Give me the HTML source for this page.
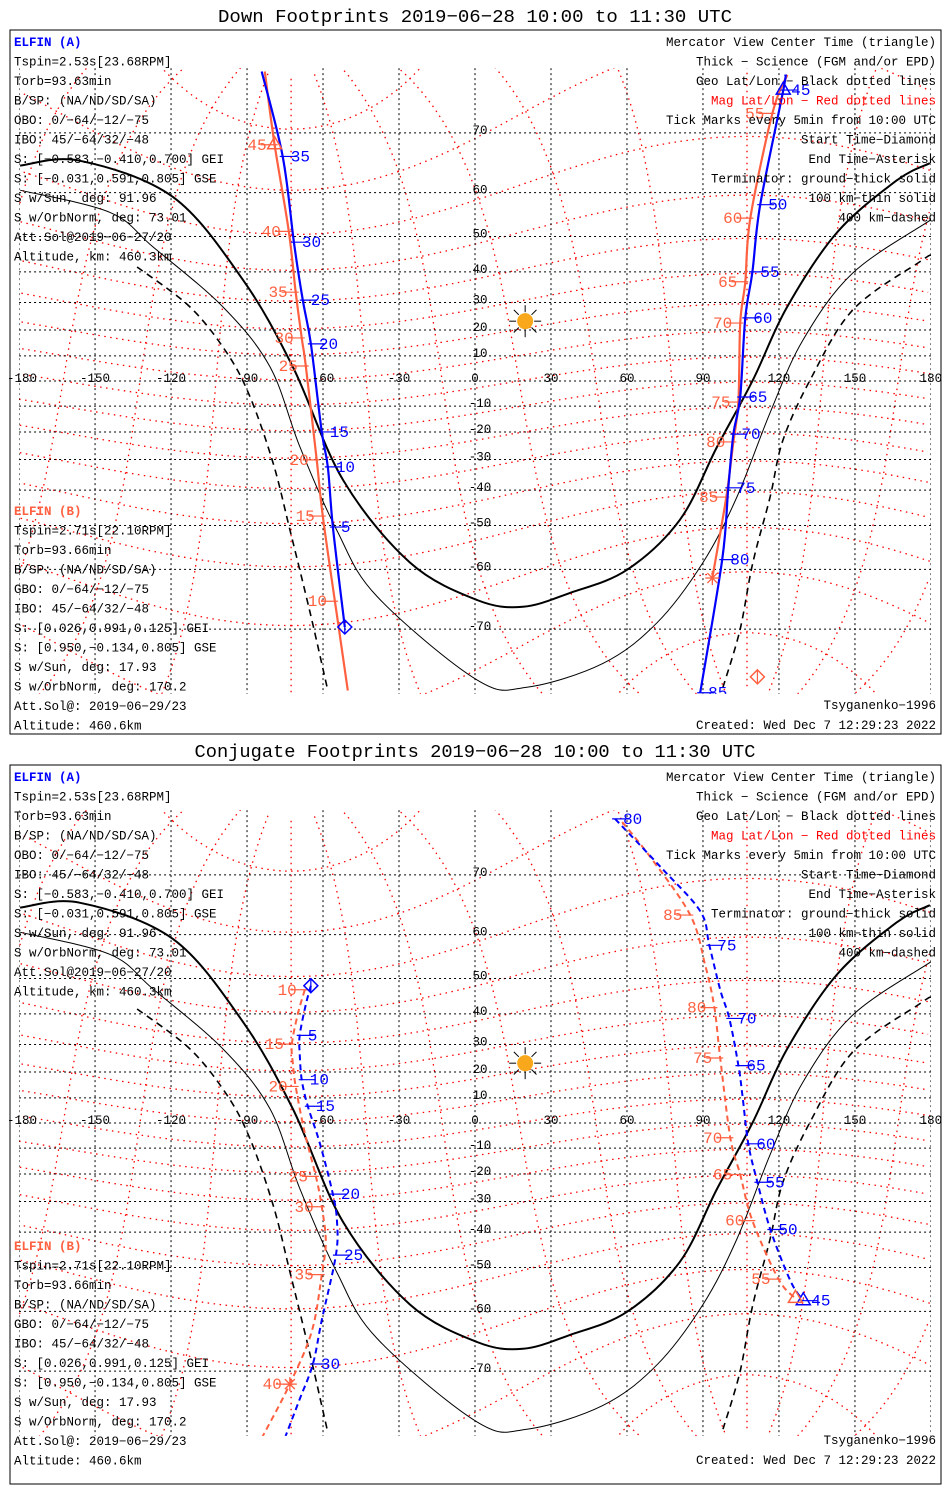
<!DOCTYPE html>
<html><head><meta charset="utf-8"><style>
html,body{margin:0;padding:0;background:#fff;width:950px;height:1500px;overflow:hidden;}
svg{display:block;}
text{font-family:"Liberation Mono",monospace;}
</style></head><body>
<svg id="chart" xmlns="http://www.w3.org/2000/svg" width="950" height="1500" viewBox="0 0 950 1500" overflow="hidden">
<rect x="0" y="0" width="950" height="1500" fill="#fff"/>
</svg>
<script>
const lonTicks = [-180,-150,-120,-90,-60,-30,0,30,60,90,120,150,180];
const latTicks = [-70,-60,-50,-40,-30,-20,-10,0,10,20,30,40,50,60,70];
const lonTickLabels = ['-180','-150','-120','-90','-60','-30','0','30','60','90','120','150','180'];
const latTickLabels = ['-70','-60','-50','-40','-30','-20','-10','0','10','20','30','40','50','60','70'];
const magLatLines = [-80,-70,-60,-50,-40,-30,-20,-10,0,10,20,30,40,50,60,70,80];
const magLonLines = [0,30,60,90,120,150,180,210,240,270,300,330];
const sunLon = 19.8, sunLat = 23.3;

const termThickLon = [-179.6,-155.9,-119.2,-91.6,-71.9,-52.1,-25.7,0.8,18.9,37.5,60.0,80.9,95.5,109.7,123.2,142.9,166.6,179.6];
const termThickLat = [65.0,65.8,59.1,37.5,5.6,-36.8,-58.6,-65.6,-66.7,-64.4,-60.1,-48.5,-25.6,0.4,28.4,51.0,62.4,65.4];
const termThinLon = [-179.6,-144.1,-127.1,-99.5,-80.9,-69.1,-54.5,-38.7,0.8,20.5,50.5,71.9,90.0,103.4,116.5,129.5,149.2,180];
const termThinLat = [60.5,55.8,47.2,28.4,5.6,-25.6,-51.3,-65.0,-75.9,-76.6,-74.2,-69.1,-58.6,-42.1,-12.6,16.2,39.7,54.1];
const termDashLLon = [-133.4,-112.5,-97.9,-88.8,-79.7,-73.0,-65.1,-58.4];
const termDashLLat = [41.5,28.4,11.1,-6.4,-31.2,-51.3,-67.6,-76.6];
const termDashRLon = [180,175.7,149.2,132.3,121.6,116.5,109.7,104.6,97.9];
const termDashRLat = [45.0,43.1,27.4,0.4,-23.0,-42.1,-58.6,-70.1,-76.6];

// Panel 1 (down footprints)
const p1ALeftLon = [-84.2,-75.9,-71.5,-68.0,-64.8,-60.5,-58.1,-56.1,-51.4];
const p1ALeftLat = [76.9,66.5,48.5,30.8,14.7,-20.0,-32.5,-50.4,-69.7];
const p1ALeftTickIdx = [1,2,3,4,5,6,7];
const p1ALeftTickLbl = ['35','30','25','20','15','10','5'];
const p1ARightLon = [122.5,121.7,112.6,109.5,106.7,104.7,102.0,100.0,97.6,88.9];
const p1ARightLat = [76.6,75.1,57.5,40.0,24.5,-6.4,-20.8,-39.3,-58.0,-77.1];
const p1ARightTickIdx = [1,2,3,4,5,6,7,8,9];
const p1ARightTickLbl = ['45','50','55','60','65','70','75','80','85'];
const p1BLeftLon = [-83.0,-79.1,-73.5,-70.8,-68.4,-66.8,-62.5,-60.1,-55.3,-50.2];
const p1BLeftLat = [76.9,68.3,51.3,33.5,17.0,6.0,-30.1,-47.5,-65.8,-76.9];
const p1BLeftTickIdx = [1,2,3,4,5,6,7,8];
const p1BLeftTickLbl = ['45','40','35','30','25','20','15','10'];
const p1BRightLon = [123.3,117.4,108.7,106.7,104.7,104.0,102.0,99.2,93.7];
const p1BRightLat = [76.6,72.5,54.5,36.9,22.6,-8.4,-23.7,-42.1,-61.7];
const p1BRightTickIdx = [1,2,3,4,5,6,7];
const p1BRightTickLbl = ['55','60','65','70','75','80','85'];
const p1BStartLon = 111.5, p1BStartLat = -75.6;

// Panel 2 (conjugate footprints)
const p2ALeftLon = [-64.8,-66.8,-69.2,-69.2,-68.4,-66.0,-61.3,-56.1,-54.5,-54.9,-60.5,-64.0,-69.2,-75.1];
const p2ALeftLat = [48.1,42.8,33.1,26.7,17.1,6.7,-7.9,-27.4,-36.7,-46.7,-61.7,-69.0,-73.5,-77.4];
const p2ALeftTickIdx = [2,4,5,7,9,11];
const p2ALeftTickLbl = ['5','10','15','20','25','30'];
const p2ARightLon = [55.3,73.1,88.9,92.5,96.8,100.4,104.0,105.5,107.9,111.5,116.6,124.5,129.6];
const p2ARightLat = [76.4,71.1,64.4,57.8,47.0,38.6,22.4,11.7,-8.3,-23.1,-39.2,-53.3,-57.8];
const p2ARightTickIdx = [0,3,5,6,8,9,10,12];
const p2ARightTickLbl = ['80','75','70','65','60','55','50','45'];
const p2BLeftLon = [-67.2,-70.0,-72.3,-71.9,-70.8,-67.2,-62.8,-60.5,-58.9,-60.5,-64.4,-73.1,-84.2];
const p2BLeftLat = [47.0,39.8,30.1,23.1,14.5,-4.0,-20.9,-31.8,-42.8,-51.8,-63.7,-71.7,-77.4];
const p2BLeftTickIdx = [0,2,4,6,7,9,11];
const p2BLeftTickLbl = ['10','15','20','25','30','35','40'];
const p2BRightLon = [58.1,69.2,85.0,90.9,94.5,96.8,100.8,104.7,109.5,119.8,126.5];
const p2BRightLat = [76.1,72.3,63.7,53.3,41.9,25.2,-5.9,-20.2,-36.4,-52.9,-57.3];
const p2BRightTickIdx = [2,4,5,6,7,8,9];
const p2BRightTickLbl = ['85','80','75','70','65','60','55'];

const leftTextA = ['Tspin=2.53s[23.68RPM]','Torb=93.63min','B/SP: (NA/ND/SD/SA)','OBO: 0/−64/−12/−75','IBO: 45/−64/32/−48','S: [−0.583,−0.410,0.700] GEI','S: [−0.031,0.591,0.805] GSE','S w/Sun, deg: 91.96','S w/OrbNorm, deg: 73.01','Att.Sol@2019−06−27/20','Altitude, km: 460.3km'];
const leftTextB = ['Tspin=2.71s[22.10RPM]','Torb=93.66min','B/SP: (NA/ND/SD/SA)','GBO: 0/−64/−12/−75','IBO: 45/−64/32/−48','S: [0.026,0.991,0.125] GEI','S: [0.950,−0.134,0.805] GSE','S w/Sun, deg: 17.93','S w/OrbNorm, deg: 170.2','Att.Sol@: 2019−06−29/23','Altitude: 460.6km'];
const rightText = ['Mercator View Center Time (triangle)','Thick − Science (FGM and/or EPD)','Geo Lat/Lon − Black dotted lines','Mag Lat/Lon − Red dotted lines','Tick Marks every 5min from 10:00 UTC','Start Time−Diamond','End Time−Asterisk','Terminator: ground−thick solid','100 km−thin solid','400 km−dashed'];

const NS = 'http://www.w3.org/2000/svg';
const svg = document.getElementById('chart');
const BLUE = '#0000ff', ORANGE = '#ff6040';

function mk(parent, tag, attrs, txt) {
  const el = document.createElementNS(NS, tag);
  for (const k in attrs) el.setAttribute(k, attrs[k]);
  if (txt !== undefined) el.textContent = txt;
  parent.appendChild(el);
  return el;
}

function smoothPath(pts) {
  if (pts.length < 3) return 'M' + pts.map(p => p[0].toFixed(1) + ',' + p[1].toFixed(1)).join(' L');
  let d = 'M' + pts[0][0].toFixed(1) + ',' + pts[0][1].toFixed(1);
  for (let i = 0; i < pts.length - 1; i++) {
    const p0 = pts[Math.max(0, i-1)], p1 = pts[i], p2 = pts[i+1], p3 = pts[Math.min(pts.length-1, i+2)];
    const c1x = p1[0] + (p2[0]-p0[0])/6, c1y = p1[1] + (p2[1]-p0[1])/6;
    const c2x = p2[0] - (p3[0]-p1[0])/6, c2y = p2[1] - (p3[1]-p1[1])/6;
    d += ` C${c1x.toFixed(1)},${c1y.toFixed(1)} ${c2x.toFixed(1)},${c2y.toFixed(1)} ${p2[0].toFixed(1)},${p2[1].toFixed(1)}`;
  }
  return d;
}

function magToGeo(mlat, mlon) {
  const d = Math.PI/180, th = 9.5*d, p = -72.6*d;
  const a = mlat*d, b = mlon*d;
  const x = Math.cos(a)*Math.cos(b), y = Math.cos(a)*Math.sin(b), z = Math.sin(a);
  const x1 = x*Math.cos(th) + z*Math.sin(th), z1 = -x*Math.sin(th) + z*Math.cos(th), y1 = y;
  const x2 = x1*Math.cos(p) - y1*Math.sin(p), y2 = x1*Math.sin(p) + y1*Math.cos(p);
  return [Math.atan2(y2, x2)/d, Math.asin(Math.max(-1, Math.min(1, z1)))/d];
}

function drawPanel(idx, boxTop, boxBot, y0, title, titleLen, conj) {
  const sx = lon => 475 + 2.533*lon;
  const sy = lat => y0 - 143*Math.log(Math.tan(Math.PI/4 + lat*Math.PI/360));
  const g = mk(svg, 'g', {});
  
  

  const t = mk(g, 'text', {x: 475, y: boxTop - 8, 'text-anchor': 'middle', 'font-size': 18.7, textLength: titleLen, lengthAdjust: 'spacingAndGlyphs'}, title);
  
  

  const frame = mk(g, 'rect', {x: 10, y: boxTop, width: 931, height: boxBot - boxTop, fill: 'none', stroke: '#000', 'stroke-width': 1});
  
  

  const topY = sy(77.2), botY = sy(-77.2);
  const cid = 'clip' + idx;
  const defs = mk(g, 'defs', {});
  const cp = mk(defs, 'clipPath', {id: cid});
  mk(cp, 'rect', {x: sx(-180), y: topY, width: sx(180) - sx(-180), height: botY - topY});
  const map = mk(g, 'g', {'clip-path': 'url(#' + cid + ')'});
  
  

  const mg = mk(map, 'g', {fill: 'none', stroke: '#ff0000', 'stroke-width': 1.3, 'stroke-dasharray': '1.5,4.5'});
  
  
  function polyGeo(pts, parent, name) {
    let segs = [[]];
    for (let i = 0; i < pts.length; i++) {
      if (i > 0 && Math.abs(pts[i][0] - pts[i-1][0]) > 180) segs.push([]);
      segs[segs.length-1].push(pts[i]);
    }
    segs.forEach(s => {
      if (s.length < 2) return;
      const pl = mk(parent, 'polyline', {points: s.map(p => sx(p[0]).toFixed(1) + ',' + sy(p[1]).toFixed(1)).join(' ')});
      
      
    });
  }
  magLatLines.forEach(ml => {
    const pts = [];
    for (let m = 0; m <= 360; m += 2) pts.push(magToGeo(ml, m));
    polyGeo(pts, mg, 'mag-lat-line');
  });
  magLonLines.forEach(mo => {
    const pts = [];
    for (let a = -86; a <= 86; a += 2) pts.push(magToGeo(a, mo));
    polyGeo(pts, mg, 'mag-lon-line');
  });

  const gg = mk(map, 'g', {stroke: '#000', 'stroke-width': 1, 'stroke-dasharray': '2,3'});
  
  
  latTicks.forEach(la => {
    const l = mk(gg, 'line', {x1: sx(-180), x2: sx(180), y1: sy(la), y2: sy(la)});
    
    
  });
  lonTicks.forEach(lo => {
    const l = mk(gg, 'line', {x1: sx(lo), x2: sx(lo), y1: topY, y2: botY});
    
    
  });

  function curve(lons, lats, w, dash, name) {
    const pts = lons.map((lo, i) => [sx(lo), sy(lats[i])]);
    const p = mk(map, 'path', {d: smoothPath(pts), fill: 'none', stroke: '#000', 'stroke-width': w, 'stroke-dasharray': dash, 'stroke-linejoin': 'round'});
    
    
  }
  curve(termThickLon, termThickLat, 2, 'none', 'terminator-ground');
  curve(termThinLon, termThinLat, 1, 'none', 'terminator-100km');
  curve(termDashLLon, termDashLLat, 1.6, '7,5', 'terminator-400km-west');
  curve(termDashRLon, termDashRLat, 1.6, '7,5', 'terminator-400km-east');

  lonTicks.forEach((lo, i) => {
    const tx = mk(g, 'text', {x: Math.max(sx(lo), 22), y: sy(0) + 1, 'text-anchor': 'middle', 'font-size': 12.5}, lonTickLabels[i]);
    
    
  });
  latTicks.forEach((la, i) => {
    if (la === 0) return;
    const tx = mk(g, 'text', {x: 480, y: sy(la) + 1, 'text-anchor': 'middle', 'font-size': 12.5}, latTickLabels[i]);
    
    
  });

  const sg = mk(g, 'g', {});
  
  
  const cx = sx(sunLon), cy = sy(sunLat);
  for (let k = 0; k < 8; k++) {
    const a = k*Math.PI/4;
    mk(sg, 'line', {x1: cx + 9*Math.cos(a), y1: cy + 9*Math.sin(a), x2: cx + 16*Math.cos(a), y2: cy + 16*Math.sin(a), stroke: '#000', 'stroke-width': 1});
  }
  mk(sg, 'circle', {cx: cx, cy: cy, r: 8, fill: '#f9a81b'});

  function track(lons, lats, color, side, tickIdx, tickLbl, name) {
    const tg = mk(map, 'g', {});
    
    
    const pts = lons.map((lo, i) => [sx(lo), sy(lats[i])]);
    const pl = mk(tg, 'path', {d: smoothPath(pts), fill: 'none', stroke: color, 'stroke-width': conj ? 2 : 2.2, 'stroke-dasharray': conj ? '6,4' : 'none'});
    
    
    tickIdx.forEach((ti, k) => {
      const x = sx(lons[ti]), y = sy(lats[ti]);
      const x1 = side > 0 ? x - 3 : x - 14, x2 = side > 0 ? x + 14 : x + 3;
      const tl = mk(tg, 'line', {x1: x1, x2: x2, y1: y, y2: y, stroke: color, 'stroke-width': 1.2});
      
      
      const lb = mk(tg, 'text', {x: side > 0 ? x + 8 : x - 8, y: y + 5, 'text-anchor': side > 0 ? 'start' : 'end', 'font-size': 16, fill: color, 'font-family': 'Liberation Sans, sans-serif'}, tickLbl[k]);
      
      
    });
    return tg;
  }
  function triangle(lon, lat, color) {
    const x = sx(lon), y = sy(lat);
    const p = mk(map, 'polygon', {points: `${x},${y-8} ${x-7},${y+4} ${x+7},${y+4}`, fill: 'none', stroke: color, 'stroke-width': 1.5});
    
    
  }
  function diamond(lon, lat, color) {
    const x = sx(lon), y = sy(lat);
    const p = mk(map, 'polygon', {points: `${x},${y-7} ${x+7},${y} ${x},${y+7} ${x-7},${y}`, fill: 'none', stroke: color, 'stroke-width': 1.5});
    
    
    const l = mk(map, 'line', {x1: x, x2: x, y1: y - 7, y2: y + 7, stroke: color, 'stroke-width': 1.2});
    
    
  }
  function asterisk(lon, lat, color) {
    const x = sx(lon), y = sy(lat);
    const ag = mk(map, 'g', {stroke: color, 'stroke-width': 1.3});
    
    
    mk(ag, 'line', {x1: x - 7, x2: x + 7, y1: y, y2: y});
    mk(ag, 'line', {x1: x, x2: x, y1: y - 7, y2: y + 7});
    mk(ag, 'line', {x1: x - 5, x2: x + 5, y1: y - 5, y2: y + 5});
    mk(ag, 'line', {x1: x - 5, x2: x + 5, y1: y + 5, y2: y - 5});
  }

  if (!conj) {
    track(p1BLeftLon, p1BLeftLat, ORANGE, -1, p1BLeftTickIdx, p1BLeftTickLbl, 'elfin-b-track-west');
    track(p1BRightLon, p1BRightLat, ORANGE, -1, p1BRightTickIdx, p1BRightTickLbl, 'elfin-b-track-east');
    track(p1ALeftLon, p1ALeftLat, BLUE, 1, p1ALeftTickIdx, p1ALeftTickLbl, 'elfin-a-track-west');
    track(p1ARightLon, p1ARightLat, BLUE, 1, p1ARightTickIdx, p1ARightTickLbl, 'elfin-a-track-east');
    triangle(p1BLeftLon[1], p1BLeftLat[1], ORANGE);
    triangle(p1ARightLon[1], p1ARightLat[1], BLUE);
    diamond(p1ALeftLon[8], p1ALeftLat[8], BLUE);
    diamond(p1BStartLon, p1BStartLat, ORANGE);
    asterisk(p1BRightLon[8], p1BRightLat[8], ORANGE);
  } else {
    track(p2BLeftLon, p2BLeftLat, ORANGE, -1, p2BLeftTickIdx, p2BLeftTickLbl, 'elfin-b-conjugate-west');
    track(p2BRightLon, p2BRightLat, ORANGE, -1, p2BRightTickIdx, p2BRightTickLbl, 'elfin-b-conjugate-east');
    track(p2ALeftLon, p2ALeftLat, BLUE, 1, p2ALeftTickIdx, p2ALeftTickLbl, 'elfin-a-conjugate-west');
    track(p2ARightLon, p2ARightLat, BLUE, 1, p2ARightTickIdx, p2ARightTickLbl, 'elfin-a-conjugate-east');
    triangle(p2ARightLon[12], p2ARightLat[12], BLUE);
    triangle(p2BRightLon[10], p2BRightLat[10], ORANGE);
    diamond(p2ALeftLon[0], p2ALeftLat[0], BLUE);
    asterisk(p2BLeftLon[11], p2BLeftLat[11], ORANGE);
  }

  const off = boxTop - 30;
  const ha = mk(g, 'text', {x: 14, y: 46 + off, 'font-size': 12.5, fill: BLUE, 'font-weight': 'bold'}, 'ELFIN (A)');
  
  
  leftTextA.forEach((s, i) => {
    const tx = mk(g, 'text', {x: 14, y: 65.5 + i*19.5 + off, 'font-size': 12.5}, s);
    
    
  });
  const hb = mk(g, 'text', {x: 14, y: 515 + off, 'font-size': 12.5, fill: ORANGE, 'font-weight': 'bold'}, 'ELFIN (B)');
  
  
  leftTextB.forEach((s, i) => {
    const tx = mk(g, 'text', {x: 14, y: 534.5 + i*19.5 + off, 'font-size': 12.5}, s);
    
    
  });
  rightText.forEach((s, i) => {
    const tx = mk(g, 'text', {x: 936, y: 46 + i*19.5 + off, 'font-size': 12.5, 'text-anchor': 'end', fill: i === 3 ? '#ff0000' : '#000'}, s);
    
    
  });
  const ts = mk(g, 'text', {x: 936, y: 709 + off, 'font-size': 12.5, 'text-anchor': 'end'}, 'Tsyganenko−1996');
  
  
  const cr = mk(g, 'text', {x: 936, y: 729 + off, 'font-size': 12.5, 'text-anchor': 'end'}, 'Created: Wed Dec  7 12:29:23 2022');
  
  
}

drawPanel(1, 30, 734, 381, 'Down Footprints 2019−06−28 10:00 to 11:30 UTC', 514, false);
drawPanel(2, 765, 1484, 1123, 'Conjugate Footprints 2019−06−28 10:00 to 11:30 UTC', 561, true);
</script>
</body></html>
